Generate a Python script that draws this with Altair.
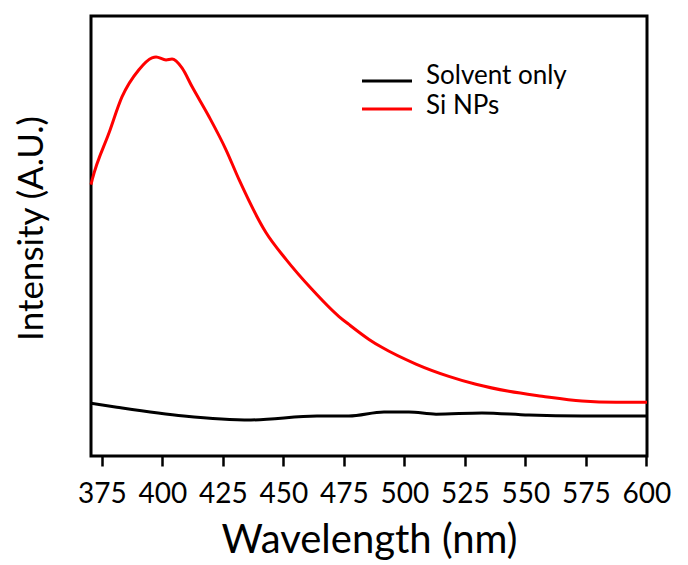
import altair as alt
import pandas as pd

# Wavelength (nm) and intensity (arbitrary units)
red_wl = [370.5, 371, 378, 383.3, 390.3, 395.7, 397.4, 401.5, 404, 408.1, 412.3, 419.3, 426.3, 431.7,
          442.8, 451.1, 461.8, 473, 477.1, 485.4, 490.7, 504.8, 518.4, 529.6, 543.2, 556.9, 573.4, 587.5, 598.2, 600.3]
red_int = [61.7, 62.8, 73.5, 81.6, 87.8, 90.5, 90.7, 90.0, 90.2, 88.2, 83.9, 77.1, 69.6, 62.8,
           50.8, 44.7, 37.9, 31.7, 29.9, 26.5, 24.7, 20.9, 18.1, 16.3, 14.7, 13.6, 12.5, 12.2, 12.2, 12.2]

black_wl = [370.5, 381.2, 408.9, 436.6, 463.9, 477.1, 491.6, 501.9, 513.1, 532.1, 551.5, 573.4, 598.2, 600.3]
black_int = [12.0, 11.1, 9.1, 8.2, 9.1, 9.1, 10.0, 10.0, 9.5, 9.8, 9.3, 9.1, 9.1, 9.1]

series_names = ["Solvent only", "Si NPs"]
series_colors = ["#000000", "#ff0000"]
x_ticks = [375, 400, 425, 450, 475, 500, 525, 550, 575, 600]

df = pd.concat([
    pd.DataFrame({"wl": black_wl, "val": black_int, "series": series_names[0], "order": range(len(black_wl))}),
    pd.DataFrame({"wl": red_wl, "val": red_int, "series": series_names[1], "order": range(len(red_wl))}),
])

FONT = "Lato"

lines = alt.Chart(df).mark_line(strokeWidth=3, interpolate="monotone").encode(
    x=alt.X("wl:Q",
            scale=alt.Scale(domain=[370.5, 600.3], nice=False, zero=False),
            axis=alt.Axis(values=x_ticks, title="Wavelength (nm)", grid=False,
                          domain=False, tickColor="black", tickWidth=2.5, tickSize=10,
                          labelFontSize=28, labelColor="black", labelPadding=14,
                          titleFontSize=40, titleFontWeight="normal", titleColor="black",
                          titlePadding=12, labelFlush=False)),
    y=alt.Y("val:Q",
            scale=alt.Scale(domain=[0, 100], nice=False),
            axis=alt.Axis(title="Intensity (A.U.)", labels=False, ticks=False, domain=False,
                          grid=False, titleFontSize=35, titleFontWeight="normal",
                          titleColor="black", titlePadding=42, titleY=212)),
    color=alt.Color("series:N",
                    scale=alt.Scale(domain=series_names, range=series_colors),
                    legend=None),
    order="order:Q",
)

legend_layers = []
for i, (name, col) in enumerate(zip(series_names, series_colors)):
    ldf = pd.DataFrame({"series": [name]})
    legend_layers.append(
        alt.Chart(ldf).mark_rule(color=col, strokeWidth=3).encode(
            x=alt.value(271), x2=alt.value(321), y=alt.value(65 + 28 * i))
    )
    legend_layers.append(
        alt.Chart(ldf).mark_text(align="left", baseline="alphabetic", fontSize=26,
                                 color="black", font=FONT).encode(
            text="series:N", x=alt.value(335), y=alt.value(68 + 30 * i))
    )

chart = alt.layer(lines, *legend_layers).properties(
    width=556, height=440,
    padding={"left": 6, "top": 8, "right": 5, "bottom": 5},
).configure(
    font=FONT,
).configure_view(
    stroke="black", strokeWidth=3,
)

chart.save("out.html", embed_options={"renderer": "svg", "actions": False})
